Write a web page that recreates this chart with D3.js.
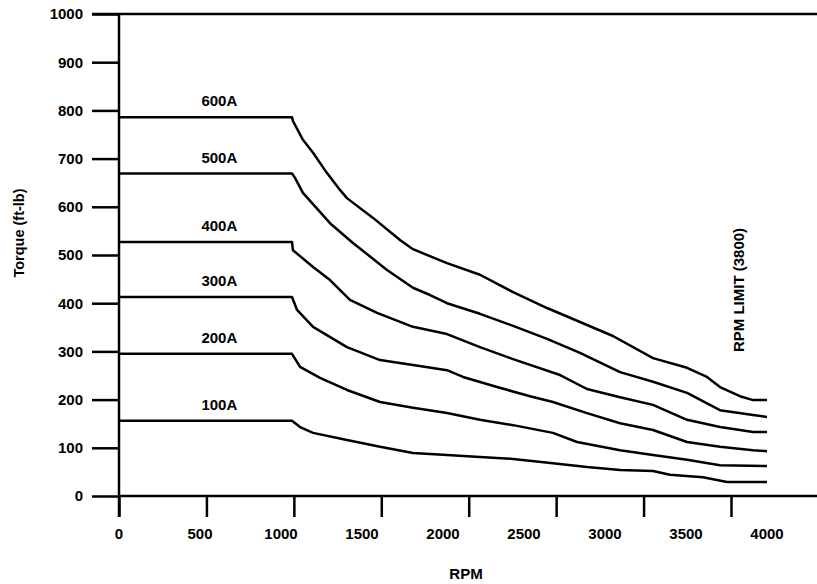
<!DOCTYPE html>
<html>
<head>
<meta charset="utf-8">
<script src="https://cdn.jsdelivr.net/npm/d3@7"></script>
<style>
  body { margin: 0; background: #fff; }
  text { font-family: "Liberation Sans", Arial, sans-serif; font-weight: bold; fill: #000; }
</style>
</head>
<body>
<script>
// torque (ft-lb) vs rpm
var torqueTicks = [0, 100, 200, 300, 400, 500, 600, 700, 800, 900, 1000];
var rpmTicks = [0, 500, 1000, 1500, 2000, 2500, 3000, 3500];
var rpmLabels = [0, 500, 1000, 1500, 2000, 2500, 3000, 3500, 4000];
var currents = ['600A', '500A', '400A', '300A', '200A', '100A'];

var curve600 = [[0,786],[1000,786],[1006,778],[1069,739],[1133,712],[1208,676],[1303,635],[1347,618],
  [1512,577],[1682,531],[1764,512],[1979,483],[2187,459],[2396,423],[2611,390],[2819,361],[3027,332],
  [3280,286],[3495,266],[3621,247],[3703,226],[3829,207],[3912,199],[4000,199]];
var curve500 = [[0,669],[1000,669],[1019,660],[1069,629],[1240,566],[1385,525],[1600,469],[1764,432],
  [1872,417],[1979,400],[2187,378],[2396,353],[2611,326],[2819,297],[3072,257],[3280,237],[3495,214],
  [3703,178],[3912,168],[4000,164]];
var curve400 = [[0,527],[1000,527],[1006,510],[1133,475],[1240,448],[1366,407],[1537,380],[1764,351],
  [1979,336],[2187,309],[2396,284],[2693,251],[2863,222],[3072,205],[3280,189],[3495,158],[3703,143],
  [3912,133],[4000,133]];
var curve300 = [[0,413],[1000,413],[1032,386],[1133,351],[1347,309],[1556,282],[1764,272],[1979,261],
  [2080,247],[2295,226],[2503,207],[2648,195],[2863,172],[3072,151],[3280,137],[3495,112],[3703,102],
  [3912,95],[4000,93]];
var curve200 = [[0,295],[1000,295],[1051,268],[1177,245],[1347,220],[1556,195],[1764,183],[1979,172],
  [2187,158],[2396,147],[2648,131],[2800,112],[3072,95],[3280,85],[3495,75],[3703,64],[4000,62]];
var curve100 = [[0,156],[1000,156],[1051,143],[1133,131],[1347,116],[1556,102],[1764,89],[1979,85],
  [2187,81],[2396,77],[2648,68],[2863,60],[3072,54],[3280,52],[3387,44],[3596,39],[3747,29],[4000,29]];
var curves = [curve600, curve500, curve400, curve300, curve200, curve100];
var labelRpm = 580;
var limitLabel = 'RPM LIMIT (3800)';

var w = 817, h = 584;
var padL = 119, padR = 817, padT = 14, padB = 496;

var svg = d3.select('body').append('svg')
  .attr('width', w)
  .attr('height', h);

var y = d3.scaleLinear().domain([0, 1000]).range([padB, padT]);
// the scan is not linear: curves, ticks and tick labels each sit on their own scale
var x = d3.scaleLinear().domain([0, 1000, 4000]).range([padL, 292, 767]);
var xTick = d3.scaleLinear().domain([0, 3500]).range([padL, 731]);
var xLab = d3.scaleLinear().domain([0, 4000]).range([padL, 767]);

// y axis
var yAxis = svg.append('g').attr('transform', 'translate(' + padL + ',0)')
  .call(d3.axisLeft(y).tickValues(torqueTicks).tickSize(27).tickPadding(9).tickFormat(d3.format('d')));
yAxis.select('.domain').remove();
yAxis.selectAll('line').attr('stroke', '#000').attr('stroke-width', 2.5);
yAxis.selectAll('text').style('font-size', '15px').style('font-family', '"Liberation Sans", Arial, sans-serif')
  .style('font-weight', 'bold');

svg.append('line').attr('x1', padL).attr('x2', padL).attr('y1', padT).attr('y2', padB + 21)
  .attr('stroke', '#000').attr('stroke-width', 2.5);
svg.append('line').attr('x1', padL - 27).attr('x2', padR).attr('y1', y(1000)).attr('y2', y(1000))
  .attr('stroke', '#000').attr('stroke-width', 2.5);
svg.append('line').attr('x1', padL).attr('x2', padR).attr('y1', y(0)).attr('y2', y(0))
  .attr('stroke', '#000').attr('stroke-width', 2.5);

// x axis ticks
var xAxis = svg.append('g').attr('transform', 'translate(0,' + padB + ')')
  .call(d3.axisBottom(xTick).tickValues(rpmTicks).tickSize(21).tickFormat(''));
xAxis.select('.domain').remove();
xAxis.selectAll('line').attr('stroke', '#000').attr('stroke-width', 2.5);

svg.selectAll('.xlab').data(rpmLabels)
  .enter().append('text')
  .attr('class', 'xlab')
  .attr('x', function (d) { return xLab(d); })
  .attr('y', padB + 43)
  .attr('text-anchor', 'middle')
  .attr('font-size', '15px')
  .text(function (d) { return d; });

// curves
var line = d3.line()
  .x(function (d) { return x(d[0]); })
  .y(function (d) { return y(d[1]); });

svg.selectAll('.curve').data(curves)
  .enter().append('path')
  .attr('class', 'curve')
  .attr('d', line)
  .attr('fill', 'none')
  .attr('stroke', '#000')
  .attr('stroke-width', 2.5)
  .attr('stroke-linejoin', 'round');

svg.selectAll('.cur').data(currents)
  .enter().append('text')
  .attr('class', 'cur')
  .attr('x', x(labelRpm))
  .attr('y', function (d, i) { return y(curves[i][0][1]) - 11; })
  .attr('text-anchor', 'middle')
  .attr('font-size', '15px')
  .text(function (d) { return d; });

// titles
svg.append('text')
  .attr('x', 466).attr('y', 579)
  .attr('text-anchor', 'middle')
  .attr('font-size', '15px')
  .text('RPM');

svg.append('text')
  .attr('transform', 'translate(24,233) rotate(-90)')
  .attr('text-anchor', 'middle')
  .attr('font-size', '14.5px')
  .text('Torque (ft-lb)');

svg.append('text')
  .attr('transform', 'translate(744,290) rotate(-90)')
  .attr('text-anchor', 'middle')
  .attr('font-size', '15px')
  .text(limitLabel);
</script>
</body>
</html>
